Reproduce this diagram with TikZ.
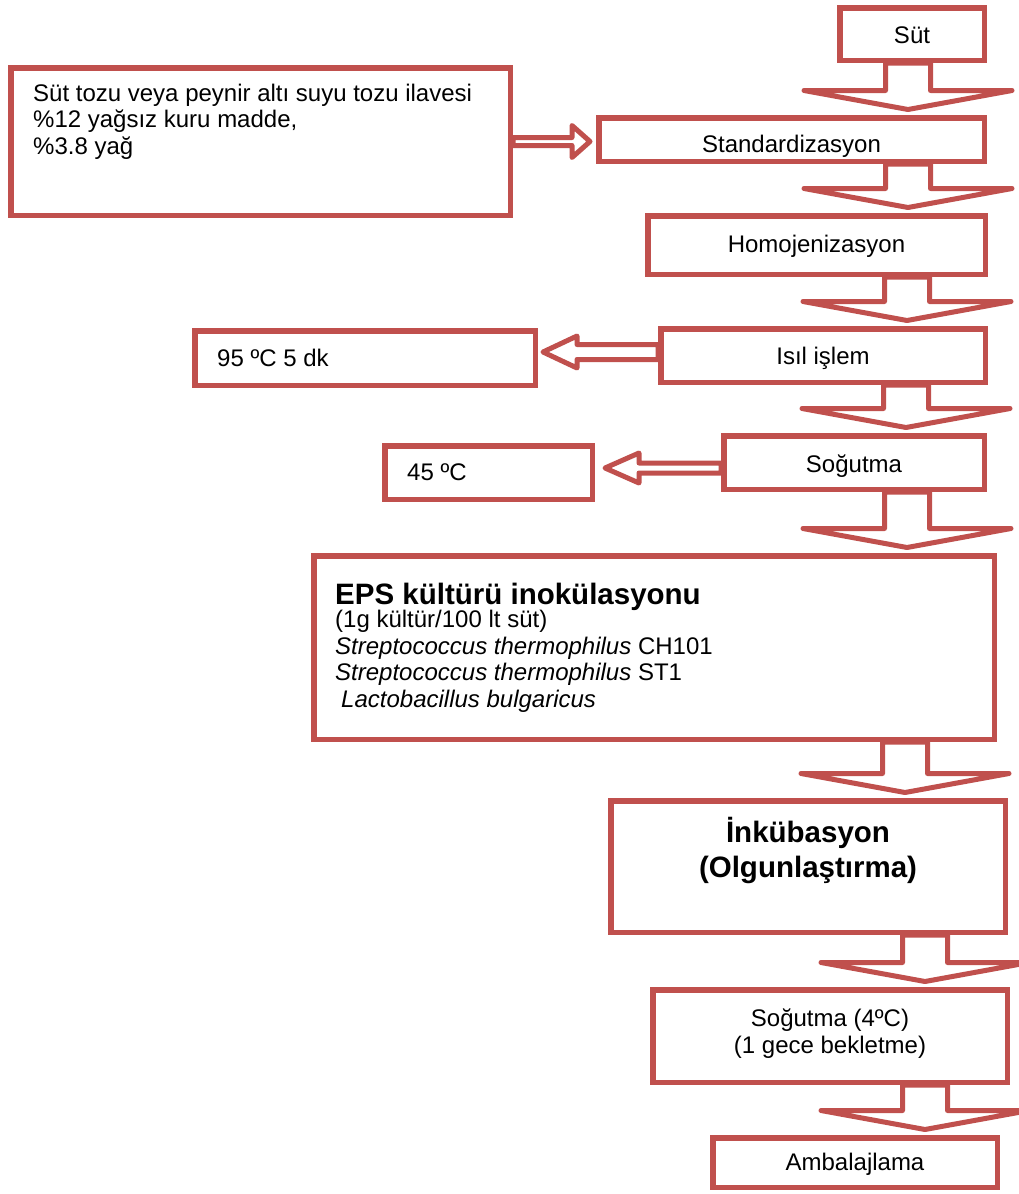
\documentclass[tikz,border=0pt]{standalone}
\usepackage{fontspec}
\setmainfont{Liberation Sans}
\usepackage{xcolor}
\usetikzlibrary{calc, positioning}
\definecolor{BoxRed}{HTML}{C0504D}
\newcommand{\fsnorm}{\fontsize{24}{26.5}\selectfont}
\newcommand{\fsbig}{\fontsize{29.5}{35}\selectfont}

% hollow block arrow pointing down, from node #1 to node #2, shaft at x=#3
\newcommand{\downblk}[3]{%
  \draw[blkarr] let \p1=(#1.south), \p2=(#2.north), \p3=(#3,0) in
    (\x3-22.5pt,\y1) -- (\x3+22.5pt,\y1) -- (\x3+22.5pt,\y2+24.5pt)
    -- (\x3+104pt,\y2+24.5pt) -- (\x3,\y2+5.5pt) -- (\x3-104pt,\y2+24.5pt)
    -- (\x3-22.5pt,\y2+24.5pt) -- cycle;}
% hollow block arrow sideways: start, tip, y, shaft half, head half, head length
\newcommand{\sideblk}[6]{%
  \draw[blkarr] let \p1=(#1), \p2=(#2), \p3=(0,#3) in
    (\x1,\y3+#4) -- (\x2+#6,\y3+#4) -- (\x2+#6,\y3+#5) -- (\x2,\y3)
    -- (\x2+#6,\y3-#5) -- (\x2+#6,\y3-#4) -- (\x1,\y3-#4) -- cycle;}

\begin{document}
\begin{tikzpicture}[
    x=1pt, y=-1pt,
    box/.style={draw=BoxRed, line width=5.5pt, fill=white, inner sep=0pt, font=\fsnorm},
    bl/.style={text height=#1, text depth=0pt},
    txt/.style={inner sep=0pt, align=left, font=\fsnorm},
    blkarr/.style={draw=BoxRed, line width=5pt, fill=white, line join=round}
]
\useasboundingbox (0,0) rectangle (1018,1194);

% Main line
\node[box, minimum width=144.5, minimum height=52.5, bl=18pt] (sut) at (912,34) {Süt};
\node[box, minimum width=385.5, minimum height=43.5, bl=25pt] (std) at (791.5,139.5) {Standardizasyon};
\node[box, minimum width=337.5, minimum height=58.5, bl=14pt] (hom) at (816.5,245) {Homojenizasyon};
\node[box, minimum width=324.5, minimum height=53.5, bl=17pt] (isil) at (823,355.5) {Isıl işlem};
\node[box, minimum width=260.5, minimum height=53.5, bl=19pt] (sog) at (854,462.5) {Soğutma};
\node[box, minimum width=680.5, minimum height=183.5] (eps) at (654,647.5) {};
\node[box, minimum width=394.5, minimum height=131.5] (ink) at (808,866.5) {};
\node[box, minimum width=354.5, minimum height=92.5] (sogb) at (830,1036) {};
\node[box, minimum width=284.5, minimum height=49.5, bl=15pt] (amb) at (855,1162.5) {Ambalajlama};

% Side boxes
\node[box, minimum width=499.5, minimum height=147.5] (ilave) at (260.5,141.5) {};
\node[box, minimum width=340.5, minimum height=54.5] (isi95) at (365,358) {};
\node[box, minimum width=207.5, minimum height=53.5] (isi45) at (488.5,472.5) {};

% Texts (base = last line)
\node[txt, anchor=base west] (ilavetxt) at (33,154)
  {Süt tozu veya peynir altı suyu tozu ilavesi\\\%12 yağsız kuru madde,\\\%3.8 yağ};
\node[txt, anchor=base west] (isi95txt) at (217,366) {95 ºC 5 dk};
\node[txt, anchor=base west] (isi45txt) at (407,480) {45 ºC};
\node[txt, anchor=base west] (epstxt) at (335,707)
  {{\fsbig\bfseries EPS kültürü inokülasyonu}\\[-3.5pt]
   (1g kültür/100 lt süt)\\
   \textit{Streptococcus thermophilus} CH101\\
   \textit{Streptococcus thermophilus} ST1\\
   \hspace{6pt}\textit{Lactobacillus bulgaricus}};
\node[txt, align=center, anchor=base, font=\fsbig\bfseries] (inktxt) at (808,877)
  {İnkübasyon\\(Olgunlaştırma)};
\node[txt, align=center, anchor=base] (sogbtxt) at (830,1053)
  {Soğutma (4ºC)\\(1 gece bekletme)};

% Block arrows
\downblk{sut}{std}{908}
\downblk{std}{hom}{908}
\downblk{hom}{isil}{907}
\downblk{isil}{sog}{906}
\downblk{sog}{eps}{907}
\downblk{eps}{ink}{905}
\downblk{ink}{sogb}{925}
\downblk{sogb}{amb}{925}
\sideblk{ilave.east}{[xshift=-6pt]std.west}{141.5}{4pt}{16pt}{-18pt}
\sideblk{isil.west}{[xshift=5pt]isi95.east}{352}{7.5pt}{16pt}{34pt}
\sideblk{sog.west}{[xshift=10pt]isi45.east}{468}{5pt}{15pt}{34pt}
\end{tikzpicture}
\end{document}
